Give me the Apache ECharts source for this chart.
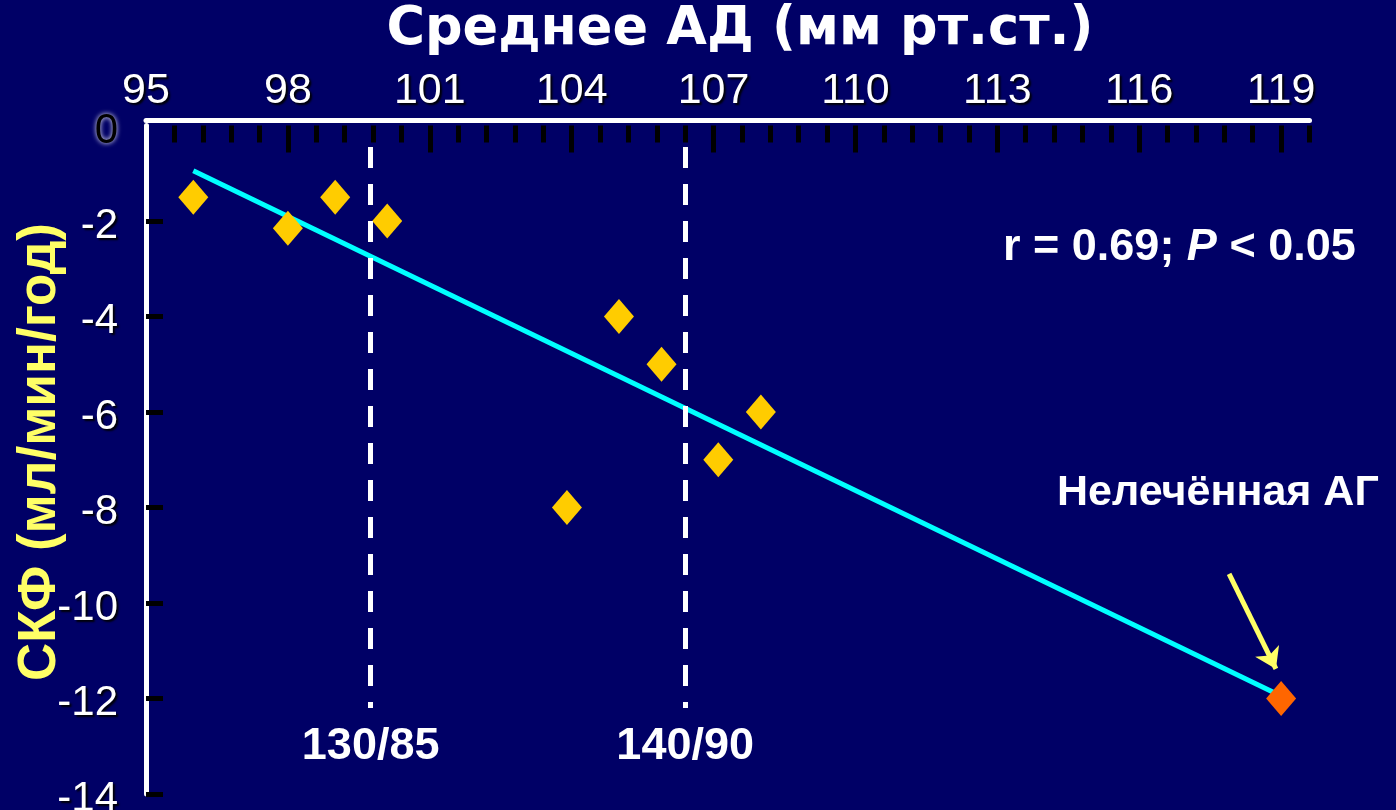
<!DOCTYPE html>
<html>
<head>
<meta charset="utf-8">
<script src="https://cdn.jsdelivr.net/npm/echarts@6/dist/echarts.min.js"></script>
<style>
  html, body { margin: 0; padding: 0; background: #000066; }
  #chart { width: 1396px; height: 810px; }
</style>
</head>
<body>
<div id="chart"></div>
<script>
// Mean arterial pressure (mm Hg) against yearly GFR change (ml/min/year)
const mapValues = [96, 98, 99, 100.1, 103.9, 105, 105.9, 107.1, 108];
const gfrValues = [-1.5, -2.15, -1.5, -2, -8, -4, -5, -7, -6];
const untreatedMap = [119];
const untreatedGfr = [-12];

// regression line end points
const trendX = [96, 119];
const trendY = [-0.95, -11.95];

// axis ticks
const xTickLabels = [95, 98, 101, 104, 107, 110, 113, 116, 119];
const yTickLabels = [0, -2, -4, -6, -8, -10, -12, -14];

// blood pressure thresholds expressed as mean pressure
const thresholdX = [99.75, 106.4];
const thresholdLabels = ['130/85', '140/90'];

const X_MIN = 95, X_MAX = 119.6, MINOR_STEP = 0.6;
const minorTicks = [];
for (let i = 1; X_MIN + MINOR_STEP * i <= X_MAX + 1e-9; i++) {
  minorTicks.push(+(X_MIN + MINOR_STEP * i).toFixed(1));
}
const majorTicks = xTickLabels.filter(v => v !== X_MIN);

const labelShadow = {
  textShadowColor: 'rgba(0,0,0,0.95)',
  textShadowBlur: 2,
  textShadowOffsetX: 2,
  textShadowOffsetY: 2
};

const chart = echarts.init(document.getElementById('chart'), null, { renderer: 'canvas' });

chart.setOption({
  animation: false,
  backgroundColor: '#000066',
  grid: { left: 146, right: 86.5, top: 125.5, bottom: 16,
    containLabel: false, outerBoundsMode: 'none' },
  xAxis: [
    {
      type: 'value', position: 'top', offset: 5, min: X_MIN, max: X_MAX,
      axisLine: { show: true, onZero: false, lineStyle: { color: '#ffffff', width: 5 } },
      axisTick: { show: false },
      splitLine: { show: false },
      axisLabel: Object.assign({
        customValues: xTickLabels, margin: 8,
        color: '#ffffff', fontFamily: 'Arial', fontSize: 43
      }, labelShadow)
    },
    {
      type: 'value', position: 'top', offset: 0, min: X_MIN, max: X_MAX,
      axisLine: { show: false, onZero: false },
      axisLabel: { show: false },
      splitLine: { show: false },
      axisTick: { show: true, inside: true, length: 27, customValues: majorTicks,
        lineStyle: { color: '#000000', width: 5 } }
    },
    {
      type: 'value', position: 'top', offset: 0, min: X_MIN, max: X_MAX,
      axisLine: { show: false, onZero: false },
      axisLabel: { show: false },
      splitLine: { show: false },
      axisTick: { show: true, inside: true, length: 17, customValues: minorTicks,
        lineStyle: { color: '#000000', width: 5 } }
    }
  ],
  yAxis: {
    type: 'value', min: -14, max: 0, interval: 2,
    axisLine: { show: true, onZero: false, lineStyle: { color: '#ffffff', width: 5 } },
    axisTick: { show: true, inside: true, length: 17,
      customValues: yTickLabels.filter(v => v !== 0),
      lineStyle: { color: '#000000', width: 5 } },
    splitLine: { show: false },
    axisLabel: {
      customValues: yTickLabels,
      margin: 28,
      formatter: v => (v === 0 ? '{zero|0}' : '{n|' + v + '}'),
      rich: {
        n: Object.assign({ color: '#ffffff', fontFamily: 'Arial', fontSize: 42,
          padding: [10, 0, 0, 0] }, labelShadow),
        zero: { color: '#000000', fontFamily: 'Arial', fontSize: 42, padding: [12, 0, 0, 0],
          textShadowColor: '#ffffff', textShadowBlur: 5, textShadowOffsetX: 0, textShadowOffsetY: 0 }
      }
    }
  },
  series: [
    {
      name: 'threshold', type: 'line', data: [], z: 1,
      markLine: {
        silent: true, symbol: ['none', 'none'],
        lineStyle: { color: '#ffffff', width: 5, type: [21, 16] },
        label: {
          show: true, position: 'end', distance: 16,
          color: '#ffffff', fontFamily: 'Arial', fontWeight: 'bold', fontSize: 45
        },
        data: thresholdX.map((x, i) => [
          { coord: [x, -0.45], label: { formatter: thresholdLabels[i] } },
          { coord: [x, -12.2] }
        ])
      }
    },
    {
      name: 'trend', type: 'line', z: 2,
      data: trendX.map((x, i) => [x, trendY[i]]),
      symbol: 'none',
      lineStyle: { color: '#00FFFF', width: 5 }
    },
    {
      name: 'treated', type: 'scatter', z: 3,
      data: mapValues.map((x, i) => [x, gfrValues[i]]),
      symbol: 'diamond', symbolSize: [30, 35],
      itemStyle: { color: '#FFCC00', opacity: 1 }
    },
    {
      name: 'untreated', type: 'scatter', z: 3,
      data: untreatedMap.map((x, i) => [x, untreatedGfr[i]]),
      symbol: 'diamond', symbolSize: [30, 35],
      itemStyle: { color: '#FF6600', opacity: 1 },
      markLine: {
        silent: true, symbol: ['none', 'arrow'], symbolSize: 20,
        lineStyle: { color: '#FFFF66', width: 5, type: 'solid' },
        label: { show: false },
        data: [[{ coord: [117.9, -9.39] }, { coord: [118.89, -11.38] }]]
      }
    }
  ],
  graphic: [
    {
      type: 'text', x: 740, y: 30,
      style: { text: 'Среднее АД (мм рт.ст.)', font: 'bold 52.5px "DejaVu Sans"',
        fill: '#ffffff', align: 'center', verticalAlign: 'middle' }
    },
    {
      type: 'text', x: 40, y: 452, rotation: Math.PI / 2,
      style: { text: 'СКФ (мл/мин/год)', font: 'bold 53px Arial',
        fill: '#FFFF66', align: 'center', verticalAlign: 'middle' }
    },
    {
      type: 'text', x: 1003, y: 248,
      style: {
        text: '{b|r = 0.69; }{i|P}{b| < 0.05}',
        align: 'left', verticalAlign: 'middle',
        rich: {
          b: { fill: '#ffffff', font: 'bold 45px Arial' },
          i: { fill: '#ffffff', font: 'italic bold 45px Arial' }
        }
      }
    },
    {
      type: 'text', x: 1057, y: 493,
      style: { text: 'Нелечённая АГ', font: 'bold 43px Arial',
        fill: '#ffffff', align: 'left', verticalAlign: 'middle' }
    }
  ]
});
</script>
</body>
</html>
